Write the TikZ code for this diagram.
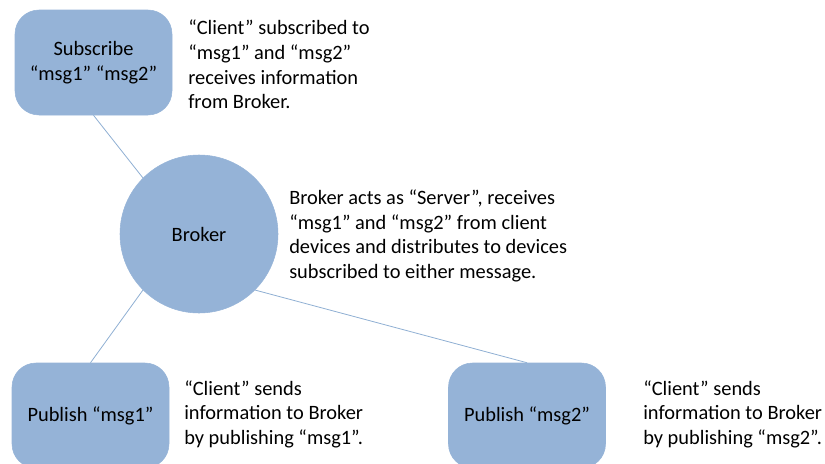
\documentclass[tikz,border=0pt]{standalone}
\usepackage{fontspec}
\setmainfont{Carlito}
\usepackage{tikz}
\usetikzlibrary{positioning}
\definecolor{cnode}{HTML}{95B3D7}
\definecolor{cline}{HTML}{8FAFD3}
\tikzset{
  clientn/.style={draw=cnode, fill=cnode, rounded corners=18pt, minimum width=117.75pt, minimum height=78.75pt, align=center, inner sep=3pt},
  brokern/.style={circle, draw=cnode, fill=cnode, minimum size=118.5pt, inner sep=0pt},
  link/.style={draw=cline, line width=0.6pt},
  note/.style={anchor=west, align=left, inner sep=0pt},
}

\begin{document}
\begin{tikzpicture}[x=0.75pt,y=-0.75pt, every node/.append style={font=\fontsize{15.3}{18.4}\selectfont}]
\useasboundingbox (0,0) rectangle (825,464);
\node[clientn] (sub) at (93.5,62.5) {Subscribe\\“msg1” “msg2”};
\node[brokern] (brk) at (199,234) {Broker};
\node[clientn] (pubA) at (90.5,415.5) {Publish “msg1”};
\node[clientn] (pubB) at (527,415.5) {Publish “msg2”};
\draw[link] (sub.south) -- (brk.north west);
\draw[link] (pubA.north) -- (brk.south west);
\draw[link] (pubB.north) -- (brk.south east);
\node[note] (subtxt) at (188,64.5) {“Client” subscribed to\\“msg1” and “msg2”\\receives information\\from Broker.};
\node[note] (brktxt) at (289,236) {Broker acts as “Server”, receives\\“msg1” and “msg2” from client\\devices and distributes to devices\\subscribed to either message.};
\node[note] (pubAtxt) at (184,414) {“Client” sends\\information to Broker\\by publishing “msg1”.};
\node[note] (pubBtxt) at (643,414) {“Client” sends\\information to Broker\\by publishing “msg2”.};
\end{tikzpicture}
\end{document}
